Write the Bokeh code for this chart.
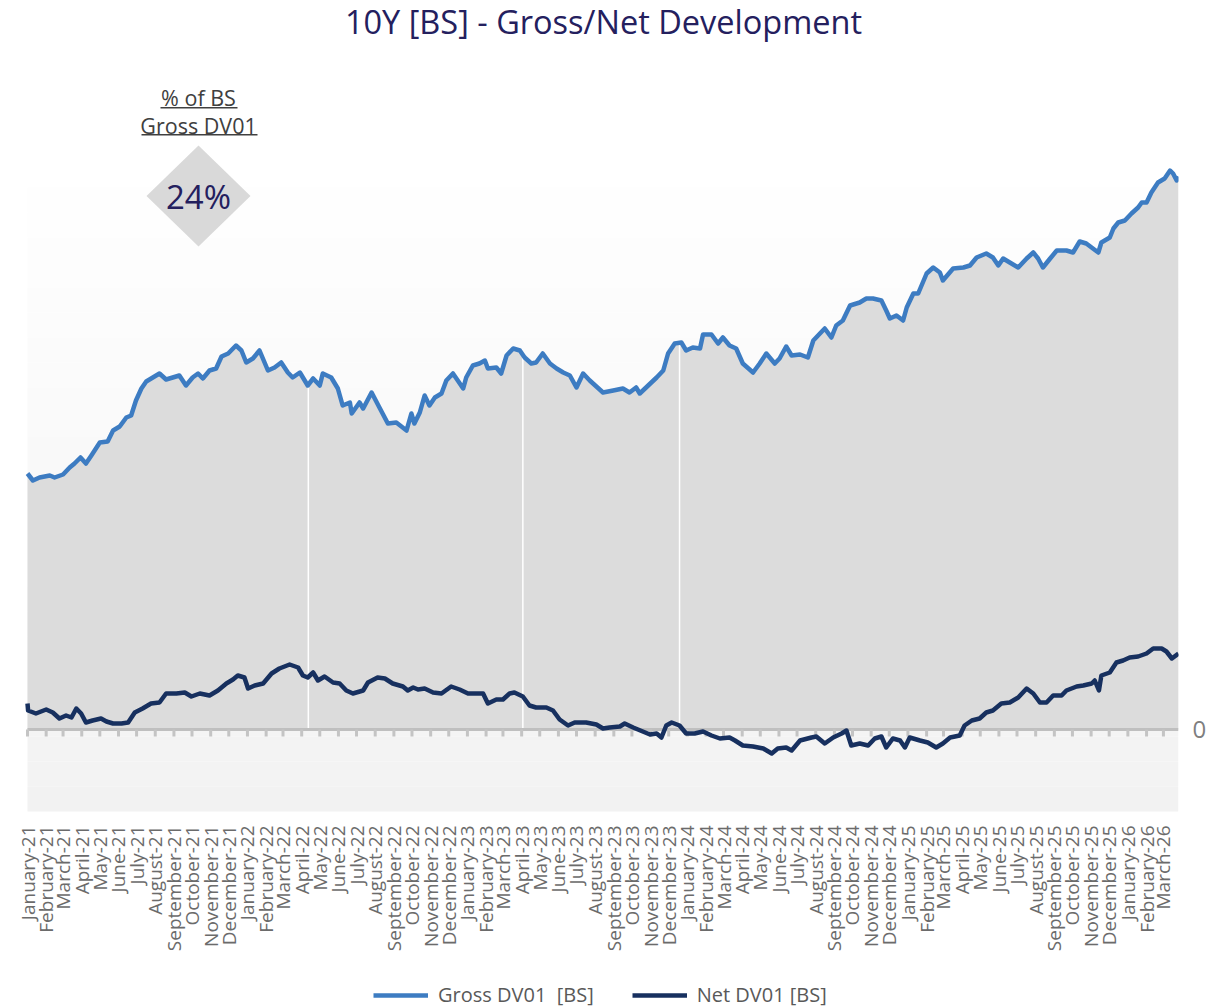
import math
from datetime import datetime, timedelta
import numpy as np
from bokeh.plotting import figure
from bokeh.core.properties import value
from bokeh.models import (Range1d, FixedTicker, Label, PolyAnnotation, BoxAnnotation,
                          Legend, LegendItem)
from bokeh.embed import file_html
from bokeh.resources import INLINE

# ---------------- data ----------------
START = datetime(2021, 1, 1)
N_DAYS = 1910  # visible span of the plot area in days

gross_day = [0, 9, 20, 37, 45, 59, 70, 78, 88, 97,
             106, 120, 133, 142, 153, 164, 172, 180, 189, 197,
             208, 219, 230, 241, 252, 263, 274, 283, 291, 302,
             313, 322, 333, 346, 355, 363, 374, 385, 399, 410,
             421, 432, 440, 452, 465, 474, 485, 490, 504, 515,
             523, 535, 538, 551, 557, 571, 584, 598, 612, 629,
             637, 642, 651, 659, 667, 676, 687, 695, 706, 714,
             723, 728, 739, 750, 759, 764, 778, 786, 795, 806,
             817, 825, 836, 844, 855, 867, 878, 889, 900, 911,
             922, 933, 944, 955, 972, 988, 999, 1010, 1016, 1030,
             1044, 1055, 1063, 1074, 1085, 1093, 1104, 1116, 1121, 1135,
             1146, 1154, 1165, 1176, 1187, 1204, 1215, 1226, 1240, 1248,
             1259, 1268, 1282, 1295, 1304, 1315, 1323, 1334, 1342, 1353,
             1365, 1381, 1392, 1403, 1417, 1425, 1431, 1442, 1453, 1459,
             1470, 1478, 1492, 1503, 1514, 1519, 1536, 1553, 1564, 1575,
             1591, 1602, 1611, 1619, 1630, 1644, 1658, 1669, 1677, 1685,
             1697, 1708, 1724, 1735, 1746, 1757, 1768, 1777, 1782, 1796,
             1802, 1810, 1821, 1832, 1843, 1849, 1857, 1865, 1876, 1887,
             1896, 1901, 1907, 1910]
gross_val = [256, 249, 252, 254, 252, 255, 262, 266, 272, 266,
             274, 287, 288, 299, 303, 312, 314, 329, 341, 348,
             352, 356, 350, 352, 354, 344, 352, 356, 351, 359,
             361, 373, 376, 384, 379, 367, 371, 379, 359, 362,
             367, 357, 352, 357, 344, 351, 344, 356, 352, 341,
             324, 327, 316, 327, 321, 337, 322, 306, 307, 299,
             316, 306, 317, 334, 324, 332, 336, 349, 356, 349,
             341, 352, 364, 366, 369, 361, 362, 356, 374, 381,
             379, 372, 366, 367, 376, 366, 361, 357, 354, 342,
             356, 349, 343, 337, 339, 341, 337, 342, 336, 344,
             352, 359, 376, 386, 387, 379, 382, 381, 395, 395,
             386, 392, 384, 381, 366, 357, 366, 376, 366, 371,
             383, 374, 375, 372, 389, 396, 401, 392, 404, 409,
             424, 427, 431, 431, 429, 419, 411, 414, 409, 422,
             436, 436, 456, 462, 457, 449, 461, 462, 464, 472,
             476, 472, 464, 471, 467, 462, 471, 477, 471, 462,
             471, 479, 479, 477, 488, 486, 481, 477, 487, 492,
             501, 507, 509, 516, 522, 527, 527, 537, 547, 551,
             559, 556, 549, 553]

net_day = [0, 1, 14, 31, 42, 53, 64, 73, 81, 89,
           97, 108, 122, 131, 142, 156, 167, 178, 191, 205,
           219, 230, 247, 261, 272, 286, 302, 316, 330, 341,
           349, 360, 366, 377, 391, 405, 418, 435, 449, 457,
           465, 474, 482, 493, 507, 518, 529, 540, 557, 565,
           581, 593, 606, 623, 631, 640, 648, 659, 673, 687,
           703, 717, 731, 745, 756, 764, 778, 789, 800, 808,
           822, 833, 844, 861, 872, 883, 897, 908, 927, 944,
           955, 966, 983, 991, 1005, 1021, 1033, 1044, 1052, 1060,
           1069, 1082, 1093, 1107, 1121, 1135, 1149, 1165, 1174, 1187,
           1204, 1221, 1235, 1245, 1259, 1268, 1282, 1301, 1309, 1323,
           1337, 1351, 1359, 1367, 1381, 1395, 1406, 1417, 1425, 1436,
           1448, 1456, 1464, 1481, 1494, 1508, 1519, 1531, 1547, 1555,
           1567, 1580, 1591, 1602, 1616, 1630, 1644, 1658, 1669, 1680,
           1691, 1702, 1716, 1724, 1741, 1752, 1766, 1771, 1778, 1782,
           1796, 1807, 1818, 1829, 1843, 1857, 1868, 1882, 1890, 1899,
           1910]
net_val = [26, 19, 16, 20, 17, 11, 14, 12, 21, 16,
           7, 9, 11, 8, 6, 6, 7, 17, 21, 26,
           27, 36, 36, 37, 33, 36, 34, 39, 46, 50,
           54, 52, 41, 44, 46, 56, 61, 65, 62, 54,
           52, 57, 49, 53, 47, 46, 39, 36, 39, 47,
           52, 51, 46, 43, 39, 42, 40, 41, 37, 36,
           43, 40, 36, 36, 36, 26, 30, 30, 36, 37,
           33, 24, 22, 22, 19, 10, 4, 7, 7, 5,
           1, 2, 3, 6, 2, -2, -5, -4, -8, 4,
           7, 4, -4, -4, -2, -6, -9, -8, -11, -16,
           -17, -19, -24, -19, -18, -21, -11, -8, -7, -14,
           -8, -4, -1, -16, -14, -16, -9, -7, -18, -9,
           -11, -18, -8, -11, -13, -18, -14, -8, -6, 4,
           9, 11, 17, 19, 26, 27, 32, 41, 36, 27,
           27, 34, 34, 39, 43, 44, 46, 49, 39, 54,
           57, 67, 69, 72, 73, 76, 81, 81, 78, 71,
           76]

# days where the gross area shows a thin white gap
gap_day = [466, 822, 1082]

month_names = ["January", "February", "March", "April", "May", "June", "July",
               "August", "September", "October", "November", "December"]
N_MONTHS = 63  # January-21 .. March-26
tick_labels = [f"{month_names[i % 12]}-{21 + i // 12}" for i in range(N_MONTHS)]

title_text = "10Y [BS] - Gross/Net Development"
share_text = "24%"
share_caption = ["% of BS", "Gross DV01"]
legend_labels = ["Gross DV01\u00a0 [BS]", "Net DV01 [BS]"]

# ---------------- derived ----------------
assert len(gross_day) == len(gross_val) and len(net_day) == len(net_val)
END = START + timedelta(days=N_DAYS)
gross_x = [START + timedelta(days=d) for d in gross_day]
net_x = [START + timedelta(days=d) for d in net_day]
gap_x = [START + timedelta(days=d) for d in gap_day]
gap_top = list(np.interp(gap_day, gross_day, gross_val))
month_starts = [datetime(2021 + i // 12, i % 12 + 1, 1) for i in range(N_MONTHS)]
epoch = datetime(1970, 1, 1)
START_MS = (START - epoch).total_seconds() * 1000.0
END_MS = (END - epoch).total_seconds() * 1000.0

FONT = "Open Sans"
W, H = 1209, 1008
AREA_L, AREA_R = 27, 1178   # page columns of the shaded plot area
PLOT_TOP_VAL = 567          # top of the shaded plot area
PLOT_BOTTOM_VAL = -82       # bottom of the shaded plot area
Y1 = 729                    # value at the top edge of the canvas (1 unit = 1 px)
Y0 = Y1 - H                 # value at the bottom edge of the canvas
days_per_px = N_DAYS / (AREA_R - AREA_L)
X_START = START - timedelta(days=AREA_L * days_per_px)   # frame starts at the canvas edge


def sy(page_y):
    """page pixel row -> screen units measured up from the frame bottom"""
    return H - page_y


def sx(page_x):
    return page_x


p = figure(width=W, height=H, x_axis_type="datetime", y_axis_location="right",
           x_range=Range1d(X_START, END), y_range=Range1d(Y0, Y1),
           output_backend="svg", toolbar_location=None,
           min_border_left=0, min_border_right=W - AREA_R,
           min_border_top=0, min_border_bottom=0,
           background_fill_color="white", border_fill_color="white", outline_line_color=None)
p.xgrid.visible = False
p.ygrid.visible = False
p.xaxis.visible = False

# plot-area background: faint vertical gradient (white -> #f2f2f2)
n_bands = 26
edges = np.linspace(PLOT_TOP_VAL, PLOT_BOTTOM_VAL, n_bands + 1)
for i in range(n_bands):
    g = int(round(255 - 13 * (i + 0.5) / n_bands))
    col = "#%02x%02x%02x" % (g, g, g)
    p.add_layout(BoxAnnotation(left=START_MS, right=END_MS, top=edges[i], bottom=edges[i + 1],
                               fill_color=col, fill_alpha=1, line_color=None, level="image"))

# gross area
p.varea(x=gross_x, y1=0, y2=gross_val, fill_color="#dcdcdc", fill_alpha=1)
# white gaps in the area
p.segment(x0=gap_x, y0=0, x1=gap_x, y1=gap_top, line_color="white", line_width=1.5)
# zero line and its month ticks
p.segment(x0=[START], y0=[0], x1=[END], y1=[0], line_color="#bfbfbf", line_width=3)
p.segment(x0=month_starts, y0=0, x1=month_starts, y1=-7, line_color="#c4c4c4", line_width=3)

gross_r = p.line(gross_x, gross_val, line_color="#3d7cc2", line_width=4.5, line_join="round")
net_r = p.line(net_x, net_val, line_color="#17305f", line_width=4.5, line_join="round")

# month labels under the plot area (vertical, reading upwards)
p.text(x=month_starts, y=PLOT_BOTTOM_VAL - 14, text=tick_labels, angle=math.pi / 2,
       text_align="right", text_baseline="middle", text_font=value(FONT),
       text_font_size="19px", text_color="#6b6b6b")

# y axis (right, only 0)
ya = p.yaxis[0]
ya.ticker = FixedTicker(ticks=[0], minor_ticks=[])
ya.major_label_text_font = FONT
ya.major_label_text_font_size = "24px"
ya.major_label_text_color = "#7f7f7f"
ya.major_label_standoff = 14
ya.axis_line_color = None
ya.major_tick_line_color = None
ya.minor_tick_line_color = None
ya.major_tick_out = 0
ya.major_tick_in = 0

# title and KPI annotation
p.add_layout(Label(x=sx(603), y=sy(21), x_units="screen", y_units="screen", text=title_text,
                   text_font=FONT, text_font_size="32.5px", text_color="#24205e",
                   text_align="center", text_baseline="middle"))
p.add_layout(PolyAnnotation(xs=[sx(146), sx(198), sx(250), sx(198)],
                            ys=[sy(195.5), sy(145), sy(195.5), sy(246)],
                            xs_units="screen", ys_units="screen",
                            fill_color="#d9d9d9", fill_alpha=1, line_color=None))
p.add_layout(Label(x=sx(198), y=sy(196), x_units="screen", y_units="screen", text=share_text,
                   text_font=FONT, text_font_size="33px", text_color="#24205e",
                   text_align="center", text_baseline="middle"))
p.add_layout(Label(x=sx(198), y=sy(97), x_units="screen", y_units="screen", text=share_caption[0],
                   text_font=FONT, text_font_size="21.5px", text_color="#404040",
                   text_align="center", text_baseline="middle"))
p.add_layout(Label(x=sx(198), y=sy(125), x_units="screen", y_units="screen", text=share_caption[1],
                   text_font=FONT, text_font_size="21.5px", text_color="#404040",
                   text_align="center", text_baseline="middle"))
for (l, r, yy) in [(160, 237, 107.3), (141, 257, 134.3)]:
    p.add_layout(BoxAnnotation(left=sx(l), right=sx(r), bottom=sy(yy) - 0.75, top=sy(yy) + 0.75,
                               left_units="screen", right_units="screen",
                               bottom_units="screen", top_units="screen",
                               fill_color="#404040", fill_alpha=1, line_color=None))

legend = Legend(items=[LegendItem(label=legend_labels[0], renderers=[gross_r]),
                       LegendItem(label=legend_labels[1], renderers=[net_r])],
                orientation="horizontal", location=(sx(373), 0),
                label_text_font=FONT, label_text_font_size="20px", label_text_color="#595959",
                glyph_width=55, glyph_height=20, label_standoff=10, spacing=38,
                padding=0, margin=0, border_line_color=None, background_fill_alpha=0)
p.add_layout(legend)

open("out.html", "w").write(file_html(p, INLINE))
